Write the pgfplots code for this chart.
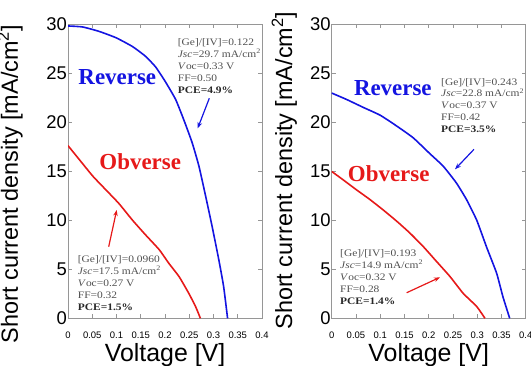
\documentclass[border=0pt]{standalone}
\usepackage{fontspec}
\setmainfont{Liberation Sans}
\newfontfamily\serif{Liberation Serif}
\usepackage{graphicx}
\usepackage{pgfplots}
\pgfplotsset{compat=1.18}
\usetikzlibrary{arrows.meta}

\definecolor{cblue}{RGB}{20,20,225}
\definecolor{cred}{RGB}{230,25,25}
\definecolor{cgray}{RGB}{80,80,80}
\definecolor{cdark}{RGB}{40,40,40}
\definecolor{frame}{RGB}{150,150,150}

\newcommand\ann[1]{\scalebox{1.15}[1]{\serif\fontsize{10}{11}\selectfont #1}}
\newcommand\blk[7]{%
  \node[anchor=base west,inner sep=0,text=cgray] at (#1,#2) {\ann{#3}};
  \node[anchor=base west,inner sep=0,text=cgray] at (#1,#2-11.9) {\ann{#4}};
  \node[anchor=base west,inner sep=0,text=cgray] at (#1,#2-23.8) {\ann{#5}};
  \node[anchor=base west,inner sep=0,text=cgray] at (#1,#2-35.7) {\ann{#6}};
  \node[anchor=base west,inner sep=0,text=cdark] at (#1,#2-47.6) {\ann{\bfseries #7}};
}

\pgfplotsset{myax/.style={
  scale only axis, width=194bp, height=294.3bp,
  xmin=0, xmax=0.4, ymin=0, ymax=30,
  xtick={0,0.05,0.1,0.15,0.2,0.25,0.3,0.35,0.4},
  xticklabels={0,0.05,0.1,0.15,0.2,0.25,0.3,0.35,0.4},
  ytick={0,5,10,15,20,25,30},
  yticklabels={0,5,10,15,20,25,30},
  tick align=inside, major tick length=4bp,
  axis line style={frame, line width=0.8bp},
  every tick/.style={frame, line width=0.8bp},
  xticklabel style={font=\fontsize{9.5}{11}\selectfont, anchor=base, yshift=-19.7bp},
  yticklabel style={font=\fontsize{18.5}{20}\selectfont, inner sep=1bp},
  xlabel={Voltage [V]},
  xlabel style={at={(axis description cs:0.5,0)}, anchor=base, yshift=-43.4bp, font=\fontsize{25}{28}\selectfont},
  ylabel={Short current density [mA/cm\textsuperscript{2}]},
  every axis plot/.append style={line width=1.6bp, line join=round, smooth, tension=0.3},
}}

\begin{document}
\begin{tikzpicture}[x=1bp,y=1bp]
\begin{axis}[myax, at={(68bp,46.7bp)}, anchor=south west,
  ylabel style={at={(axis description cs:-0.258,0.456)}, anchor=base, font=\fontsize{23.5}{26}\selectfont}]
\addplot[cblue] table {
0 29.8
0.030 29.7
0.064 29.25
0.099 28.6
0.133 27.7
0.160 26.7
0.181 25.6
0.201 24.1
0.222 22.3
0.239 20.2
0.256 17.9
0.270 15.5
0.284 12.4
0.297 9.4
0.311 5.95
0.321 3.2
0.329 0
};
\addplot[cred] table {
0 17.6
0.023 16.2
0.051 14.5
0.078 13.1
0.105 11.7
0.133 10.0
0.160 8.5
0.188 7.0
0.208 5.6
0.229 4.25
0.249 2.55
0.263 1.2
0.273 0
};
\end{axis}
\begin{axis}[myax, at={(331.7bp,46.7bp)}, anchor=south west,
  ylabel style={at={(axis description cs:-0.204,0.502)}, anchor=base, font=\fontsize{23.5}{26}\selectfont}]
\addplot[cblue] table {
0 22.96
0.031 22.3
0.065 21.5
0.100 20.7
0.134 19.6
0.168 18.4
0.202 16.8
0.230 15.5
0.257 13.8
0.278 12.1
0.299 10.0
0.319 7.3
0.340 4.6
0.353 2.2
0.367 0
};
\addplot[cred] table {
0 14.97
0.024 14.1
0.051 13.1
0.079 12.1
0.106 11.05
0.134 9.9
0.161 8.7
0.189 7.3
0.216 5.8
0.244 4.25
0.271 2.55
0.299 1.2
0.316 0
};
\end{axis}

% big labels
\node[text=cblue, font=\serif\bfseries\fontsize{23}{26}\selectfont, inner sep=0] at (117.3,288.3) {Reverse};
\node[text=cred, font=\serif\bfseries\fontsize{23}{26}\selectfont, inner sep=0] at (140.2,203.3) {Obverse};
\node[text=cblue, font=\serif\bfseries\fontsize{23}{26}\selectfont, inner sep=0] at (392.8,276.7) {Reverse};
\node[text=cred, font=\serif\bfseries\fontsize{23}{26}\selectfont, inner sep=0] at (388.7,191.7) {Obverse};

% annotation blocks
\blk{177.7}{319.5}{[Ge]/[IV]=0.122}{\textit{Jsc}=29.7 mA/cm\textsuperscript{2}}{\textit{V}oc=0.33 V}{FF=0.50}{PCE=4.9\%}
\blk{77.7}{102.5}{[Ge]/[IV]=0.0960}{\textit{Jsc}=17.5 mA/cm\textsuperscript{2}}{\textit{V}oc=0.27 V}{FF=0.32}{PCE=1.5\%}
\blk{441}{280}{[Ge]/[IV]=0.243}{\textit{Jsc}=22.8 mA/cm\textsuperscript{2}}{\textit{V}oc=0.37 V}{FF=0.42}{PCE=3.5\%}
\blk{340}{108.5}{[Ge]/[IV]=0.193}{\textit{Jsc}=14.9 mA/cm\textsuperscript{2}}{\textit{V}oc=0.32 V}{FF=0.28}{PCE=1.4\%}

% arrows
\draw[cblue, line width=1.2bp, -{Stealth[length=6bp,width=4.5bp]}] (209.3,266.7) -- (197.7,236.7);
\draw[cred, line width=1.2bp, -{Stealth[length=6bp,width=4.5bp]}] (108.7,118.3) -- (116.7,155);
\draw[cblue, line width=1.2bp, -{Stealth[length=6bp,width=4.5bp]}] (474,215.7) -- (455,195.7);
\draw[cred, line width=1.2bp, -{Stealth[length=6bp,width=4.5bp]}] (406.7,72.3) -- (440,87.7);

\pgfresetboundingbox
\path (0,0) rectangle (531,365);
\end{tikzpicture}
\end{document}
